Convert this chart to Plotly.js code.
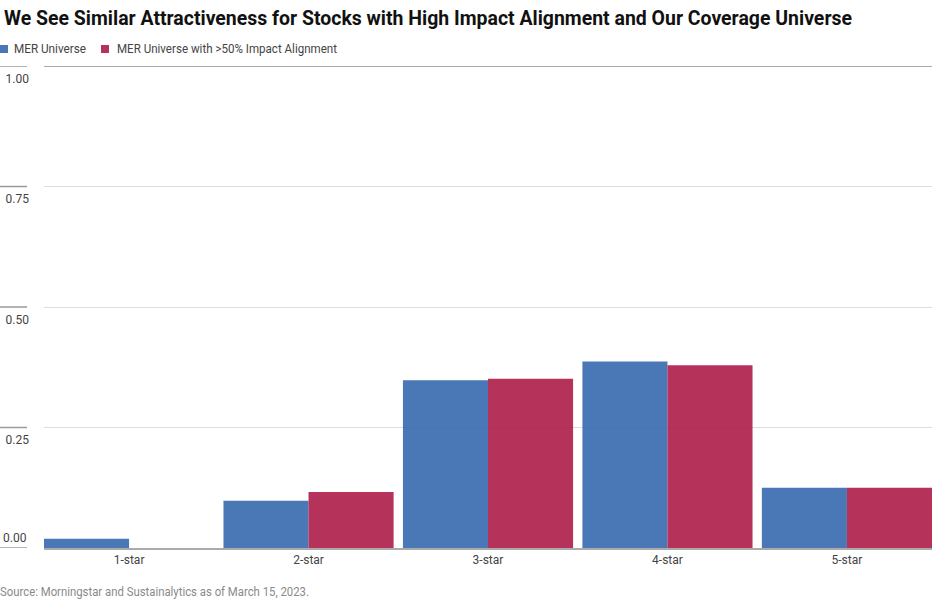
<!DOCTYPE html>
<html>
<head>
<meta charset="utf-8">
<script src="https://cdn.plot.ly/plotly-3.0.1.min.js"></script>
<style>html,body{margin:0;padding:0;background:#fff;}#chart{width:948px;height:603px;}</style>
</head>
<body>
<div id="chart"></div>
<script>
const categories = ["1-star", "2-star", "3-star", "4-star", "5-star"];
const merUniverse = [0.019, 0.098, 0.348, 0.387, 0.125];
const merImpact = [0.0, 0.116, 0.351, 0.379, 0.125];
const seriesNames = ["MER Universe", "MER Universe with >50% Impact Alignment"];
const seriesColors = ["#3668ae", "#ad1c48"];
const yTickVals = [0, 0.25, 0.5, 0.75, 1.0];
const yTickText = ["0.00", "0.25", "0.50", "0.75", "1.00"];
const titleText = "We See Similar Attractiveness for Stocks with High Impact Alignment and Our Coverage Universe";
const sourceText = "Source: Morningstar and Sustainalytics as of March 15, 2023.";

const FONT = 'Roboto, "Liberation Sans", sans-serif';
const W = 948, H = 603;
const M = {l: 44, r: 16, t: 66, b: 55};
const plotW = W - M.l - M.r;
const plotH = H - M.t - M.b;
const bargap = 0.052;
const px2x = p => (p - M.l) / plotW;
const px2y = p => (H - M.b - p) / plotH;

const traces = [
  {type: 'bar', x: categories, y: merUniverse, name: seriesNames[0],
   marker: {color: seriesColors[0], opacity: 0.9, line: {width: 0}}},
  {type: 'bar', x: categories, y: merImpact, name: seriesNames[1],
   marker: {color: seriesColors[1], opacity: 0.9, line: {width: 0}}}
];

const shapes = yTickVals.map(v => ({
  type: 'line', xref: 'paper', yref: 'y', x0: px2x(0), x1: px2x(27), y0: v, y1: v,
  line: {color: '#9a9a9a', width: 1.5}
}));
shapes.push({type: 'line', xref: 'paper', yref: 'y', x0: 0, x1: 1, y0: 1, y1: 1,
  line: {color: '#aaaaaa', width: 2}});

// custom legend: swatches + labels
const legendX = [[0, 14], [101, 117]];
const legendLen = [72, 220];
const annotations = [];
seriesNames.forEach((n, i) => {
  shapes.push({type: 'rect', xref: 'paper', yref: 'paper',
    x0: px2x(legendX[i][0]), x1: px2x(legendX[i][0] + 8), y0: px2y(53), y1: px2y(45),
    fillcolor: seriesColors[i], opacity: 0.9, line: {width: 0}});
  annotations.push({text: n, xref: 'paper', yref: 'paper', x: px2x(legendX[i][1]), xanchor: 'left',
    y: px2y(49), yanchor: 'middle', showarrow: false, xshift: -2,
    font: {family: FONT, size: 12, color: '#444'}});
});
annotations.push({text: sourceText, xref: 'paper', yref: 'paper', x: px2x(0), xanchor: 'left',
  y: px2y(592), yanchor: 'middle', showarrow: false, xshift: -2,
  font: {family: FONT, size: 12, color: '#8a8a8a'}});
// the bottom tick label sits above its line in the reference
annotations.push({text: yTickText[0], xref: 'paper', yref: 'y', x: px2x(27), xanchor: 'right',
  y: yTickVals[0], yanchor: 'middle', yshift: 10, xshift: 2, showarrow: false,
  font: {family: FONT, size: 12, color: '#444'}});

const layout = {
  width: W, height: H,
  margin: M,
  paper_bgcolor: '#fff', plot_bgcolor: '#fff',
  font: {family: FONT, size: 12, color: '#444'},
  barmode: 'group', bargap: bargap, bargroupgap: 0,
  title: {text: titleText, xref: 'container', yref: 'container', x: 4 / W, xanchor: 'left',
    y: 1 - 18 / H, yanchor: 'middle',
    font: {family: FONT, size: 21, color: '#111', weight: 'bold'}},
  showlegend: false,
  xaxis: {type: 'category', range: [-0.5 + bargap / 2, categories.length - 0.5 - bargap / 2],
    showgrid: false, zeroline: false, showline: true, linecolor: '#aaaaaa', linewidth: 2,
    ticks: '', tickfont: {family: FONT, size: 12, color: '#444'}, fixedrange: true},
  yaxis: {range: [0, 1], tickvals: yTickVals.slice(1), ticktext: yTickText.slice(1), showgrid: true,
    gridcolor: '#dddddd', gridwidth: 1, zeroline: false, showline: false, ticks: '',
    ticklabelposition: 'outside bottom', ticklabelstandoff: 14, ticklabelshift: 4,
    tickfont: {family: FONT, size: 12, color: '#444'}, fixedrange: true},
  shapes: shapes,
  annotations: annotations
};

Plotly.newPlot('chart', traces, layout, {displayModeBar: false, staticPlot: true}).then(gd => {
  // condense text to mimic the reference's condensed typeface, keeping the left edge fixed
  const squeeze = (el, len) => {
    if (!el) return;
    const w = el.getComputedTextLength();
    const anchor = el.getAttribute('text-anchor') || 'start';
    let x = parseFloat(el.getAttribute('x')) || 0;
    if (anchor === 'middle') x -= w / 2;
    else if (anchor === 'end') x -= w;
    el.setAttribute('text-anchor', 'start');
    el.setAttribute('x', String(x));
    el.querySelectorAll('tspan').forEach(ts => { if (ts.hasAttribute('x')) ts.setAttribute('x', String(x)); });
    el.setAttribute('textLength', String(len));
    el.setAttribute('lengthAdjust', 'spacingAndGlyphs');
  };
  squeeze(gd.querySelector('.gtitle'), 848);
  const ann = gd.querySelectorAll('.annotation-text');
  if (ann.length >= 3) {
    squeeze(ann[0], legendLen[0]);
    squeeze(ann[1], legendLen[1]);
    squeeze(ann[2], 309);
  }
});
</script>
</body>
</html>
